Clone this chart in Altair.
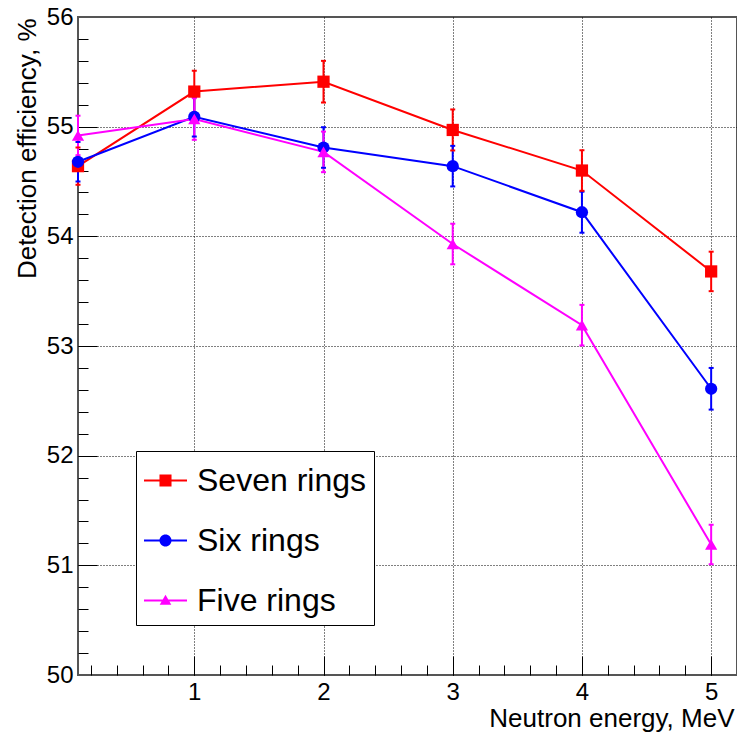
import altair as alt
import pandas as pd

# ---------------- data ----------------
energy = [0.1, 1, 2, 3, 4, 5]
seven = [54.64, 55.32, 55.41, 54.97, 54.60, 53.68]
seven_err = [0.17, 0.19, 0.19, 0.187, 0.185, 0.18]
six = [54.68, 55.09, 54.81, 54.64, 54.22, 52.61]
six_err = [0.18, 0.18, 0.185, 0.185, 0.187, 0.19]
five = [54.92, 55.07, 54.77, 53.93, 53.19, 51.19]
five_err = [0.18, 0.19, 0.185, 0.185, 0.185, 0.18]

series_names = ["Seven rings", "Six rings", "Five rings"]
series_colors = ["#ff0000", "#0000ff", "#ff00ff"]
marker_shapes = ["square", "circle", "triangle-up"]

x_major = [1, 2, 3, 4, 5]
x_minor = [round(0.2 * i, 1) for i in range(1, 26)]
y_labels = [50, 51, 52, 53, 54, 55, 56]
y_major = [51, 52, 53, 54, 55]
y_minor = [round(50 + 0.2 * i, 1) for i in range(1, 30)]

# legend symbols: line through marker (unit box -1..1)
LINE = "M-1,-0.05H1V0.05H-1Z "
legend_paths = [
    LINE + "M-0.28,-0.28H0.28V0.28H-0.28Z",
    LINE + "M0.28,0A0.28,0.28 0 1,1 -0.28,0A0.28,0.28 0 1,1 0.28,0Z",
    LINE + "M0,-0.27L0.27,0.2L-0.27,0.2Z",
]

rows = []
for name, col, shp, vals, errs in zip(series_names, series_colors, marker_shapes,
                                      [seven, six, five], [seven_err, six_err, five_err]):
    for e, v, err in zip(energy, vals, errs):
        rows.append(dict(series=name, clr=col, shp=shp, energy=e, eff=v,
                         lo=v - err, hi=v + err))
df = pd.DataFrame(rows)

# ---------------- layout ----------------
W, H = 659, 658
FONT = "Liberation Sans"

xscale = alt.Scale(domain=[0.1, 5.2], nice=False, zero=False)
yscale = alt.Scale(domain=[50, 56], nice=False, zero=False)

x_label_axis = alt.Axis(orient="bottom", values=x_major, format="d", ticks=False,
                        domain=False, grid=False, labelFont=FONT, labelFontSize=24,
                        labelColor="black", labelPadding=5, labelFlush=False,
                        title="Neutron energy, MeV", titleFont=FONT, titleFontSize=26,
                        titleFontWeight="normal", titleColor="black", titleX=W - 3,
                        titleY=51, titleAlign="right", titleBaseline="alphabetic")
y_label_axis = alt.Axis(orient="left", values=y_labels, format="d", ticks=False,
                        domain=False, grid=False, labelFont=FONT, labelFontSize=24,
                        labelColor="black", labelPadding=5, labelFlush=False,
                        title="Detection efficiency, %", titleFont=FONT, titleFontSize=26,
                        titleFontWeight="normal", titleColor="black", titleAngle=270,
                        titleX=-43, titleY=1, titleAlign="right",
                        titleBaseline="alphabetic")
grid_kw = dict(gridColor="black", gridDash=[1, 2], gridWidth=1, gridOpacity=1)
x_major_axis = alt.Axis(orient="top", offset=-H, values=x_major, labels=False,
                        domain=False, tickSize=19, tickColor="black", tickWidth=1,
                        grid=True, title=None, **grid_kw)
y_major_axis = alt.Axis(orient="right", offset=-W, values=y_major, labels=False,
                        domain=False, tickSize=19, tickColor="black", tickWidth=1,
                        grid=True, title=None, **grid_kw)
x_minor_axis = alt.Axis(orient="top", offset=-H, values=x_minor, labels=False,
                        domain=False, tickSize=10, tickColor="black", tickWidth=1,
                        grid=False, title=None)
y_minor_axis = alt.Axis(orient="right", offset=-W, values=y_minor, labels=False,
                        domain=False, tickSize=10, tickColor="black", tickWidth=1,
                        grid=False, title=None)

base = alt.Chart(df)
ident_color = alt.Color("clr:N", scale=None)

errs = base.mark_rule(strokeWidth=2).encode(
    x=alt.X("energy:Q", scale=xscale, axis=x_label_axis),
    y=alt.Y("lo:Q", scale=yscale, axis=y_label_axis),
    y2="hi:Q",
    color=ident_color,
)
cap_hi = base.mark_tick(orient="horizontal", size=5, thickness=2, opacity=1).encode(
    x=alt.X("energy:Q", scale=xscale, axis=x_major_axis),
    y=alt.Y("hi:Q", scale=yscale, axis=y_major_axis),
    color=ident_color,
)
cap_lo = base.mark_tick(orient="horizontal", size=5, thickness=2, opacity=1).encode(
    x=alt.X("energy:Q", scale=xscale, axis=x_minor_axis),
    y=alt.Y("lo:Q", scale=yscale, axis=y_minor_axis),
    color=ident_color,
)
lines = base.mark_line(strokeWidth=2).encode(
    x=alt.X("energy:Q", scale=xscale, axis=None),
    y=alt.Y("eff:Q", scale=yscale, axis=None),
    color=ident_color,
    detail="series:N",
)
points = base.mark_point(filled=True, opacity=1, size=150, strokeWidth=0).encode(
    x=alt.X("energy:Q", scale=xscale, axis=None),
    y=alt.Y("eff:Q", scale=yscale, axis=None),
    fill=alt.Fill("clr:N", scale=None),
    shape=alt.Shape("shp:N", scale=None),
)

legend = alt.Legend(orient="none", legendX=58, legendY=434, title=None,
                    labelFont=FONT, labelFontSize=32, labelColor="black",
                    labelExpr="datum.label + '  '",
                    symbolSize=1849, symbolStrokeWidth=0, symbolOpacity=1,
                    strokeColor="black", fillColor="white", padding=8,
                    rowPadding=22, labelOffset=10, labelLimit=500, cornerRadius=0)
legend_layer = base.mark_point(filled=True, opacity=0).encode(
    x=alt.X("energy:Q", scale=xscale, axis=None),
    y=alt.Y("eff:Q", scale=yscale, axis=None),
    color=alt.Color("series:N", scale=alt.Scale(domain=series_names, range=series_colors),
                    legend=legend),
    shape=alt.Shape("series:N", scale=alt.Scale(domain=series_names, range=legend_paths),
                    legend=legend),
)

chart = alt.layer(errs, cap_hi, cap_lo, lines, points, legend_layer).resolve_axis(
    x="independent", y="independent"
).properties(
    width=W, height=H,
    padding={"left": 78, "top": 17, "right": 0, "bottom": 61},
    autosize=alt.AutoSizeParams(type="none"),
    background="white",
).configure_view(stroke="#555555", strokeWidth=2)

chart.save("out.html", embed_options={"renderer": "svg", "actions": False})
